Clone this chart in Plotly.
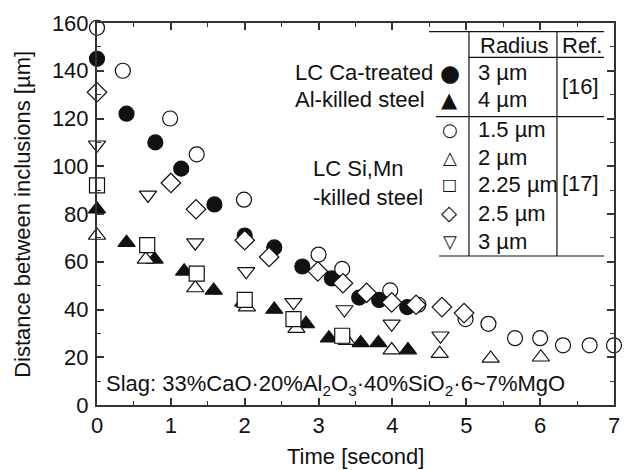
import plotly.graph_objects as go

# ---- data ----
t_ca3 = [0, 0.4, 0.79, 1.14, 1.59, 2.0, 2.4, 2.78, 3.18, 3.55, 3.82, 4.2]
d_ca3 = [145, 122, 110, 99, 84, 71, 66, 58, 53, 45, 44, 41]
t_ca4 = [0, 0.4, 0.78, 1.18, 1.58, 1.98, 2.4, 2.83, 3.14, 3.57, 3.81, 4.21]
d_ca4 = [82, 68, 61, 56, 48, 43, 40, 34, 28, 26, 26, 23]
t_si15 = [0, 0.35, 0.99, 1.35, 1.99, 3.0, 3.32, 3.97, 4.35, 4.99, 5.3, 5.66, 6.0, 6.31, 6.67, 7.0]
d_si15 = [158, 140, 120, 105, 86, 63, 57, 48, 42, 36, 34, 28, 28, 25, 25, 25]
t_si2 = [0, 0.66, 1.33, 2.03, 2.7, 3.38, 3.99, 4.64, 5.33, 6.01]
d_si2 = [71, 61, 49, 41, 32, 27, 23, 21.5, 19.5, 20]
t_si225 = [0, 0.68, 1.35, 2.0, 2.66, 3.32]
d_si225 = [92, 67, 55, 44, 36, 29]
t_si25 = [0, 1.0, 1.34, 2.0, 2.33, 2.99, 3.33, 3.65, 3.99, 4.32, 4.67, 4.97]
d_si25 = [131, 93, 82, 69, 62, 56, 51, 47, 43, 42, 41, 38.5]
t_si3 = [0, 0.69, 1.33, 2.02, 2.66, 3.35, 3.99, 4.65]
d_si3 = [109, 88, 68, 56, 43, 40, 34, 29]

legend_symbols = ["●", "▲", "○", "△", "□", "◇", "▽"]
legend_radius = ["3 µm", "4 µm", "1.5 µm", "2 µm", "2.25 µm", "2.5 µm", "3 µm"]

FONT = "Liberation Sans, Arial, sans-serif"
FS = 22
BLACK = "#111111"

# plot area in pixels (for placing layout decorations)
L, R, T, B = 97, 620, 23, 405
W_, H_ = 628, 470


def px(x):
    return (x - L) / (R - L)


def py(y):
    return (B - y) / (B - T)


def trace(t, d, symbol, filled):
    return go.Scatter(
        x=t, y=d, mode="markers", cliponaxis=False, showlegend=False,
        marker=dict(symbol=symbol, size=15,
                    color=BLACK if filled else "white",
                    line=dict(color=BLACK, width=1.2)))


fig = go.Figure()
fig.add_trace(trace(t_ca3, d_ca3, "circle", True))
fig.add_trace(trace(t_ca4, d_ca4, "triangle-up", True))
fig.add_trace(trace(t_si15, d_si15, "circle", False))
fig.add_trace(trace(t_si2, d_si2, "triangle-up", False))
fig.add_trace(trace(t_si3, d_si3, "triangle-down", False))
fig.add_trace(trace(t_si225, d_si225, "square", False))
fig.add_trace(trace(t_si25, d_si25, "diamond", False))

axis_common = dict(
    showline=True, linecolor="#333333", linewidth=2, mirror="ticks",
    ticks="inside", ticklen=7, tickwidth=1.5, tickcolor="#333333",
    showgrid=False, zeroline=False,
    tickfont=dict(family=FONT, size=FS, color=BLACK),
)

fig.update_xaxes(range=[0, 7], dtick=1, tick0=0,
                 minor=dict(ticks="inside", dtick=0.5, ticklen=4, tickcolor="#333333", tickwidth=1.2),
                 **axis_common)
fig.update_yaxes(range=[0, 160], dtick=20, tick0=0, ticklabelstandoff=2,
                 minor=dict(ticks="inside", dtick=10, ticklen=4, tickcolor="#333333", tickwidth=1.2),
                 **axis_common)

ann = []


def text(x, y, s, xanchor="left", size=FS, angle=0, family=FONT):
    ann.append(dict(x=px(x), y=py(y), xref="paper", yref="paper", text=s,
                    showarrow=False, xanchor=xanchor, yanchor="middle",
                    textangle=angle,
                    font=dict(family=family, size=size, color=BLACK)))


# axis titles
text(358, 456, "Time [second]", "center")
text(21, 214, "Distance between inclusions [µm]", "center", angle=-90)

# group labels
text(295, 73, "LC Ca-treated")
text(295, 100, "Al-killed steel")
text(313, 168, "LC Si,Mn")
text(313, 197, "-killed steel")

# slag composition
text(104, 385, "Slag: 33%CaO·20%Al<sub>2</sub>O<sub>3</sub>·40%SiO<sub>2</sub>·6~7%MgO")

# legend table
text(519, 45, "Radius", "center")
text(588, 45, "Ref.", "center")
row_y = [73, 100, 129, 157, 185, 213, 241]
glyph_size = {"●": 23, "▲": 21, "○": 18, "△": 18, "□": 16, "◇": 21, "▽": 18}
for s, r, y in zip(legend_symbols, legend_radius, row_y):
    text(454, y, s, "center", size=glyph_size[s], family="DejaVu Sans")
    text(480, y, r)
text(586, 86, "[16]", "center")
text(586, 183, "[17]", "center")

shapes = []
for (x0, y0, x1, y1) in [(433, 31.7, 610, 31.7), (473, 57.3, 610, 57.3),
                         (440, 116.7, 610, 116.7), (443, 256, 610, 256),
                         (473.3, 31.7, 473.3, 256), (562.3, 31.7, 562.3, 256)]:
    shapes.append(dict(type="line", xref="paper", yref="paper",
                       x0=px(x0), y0=py(y0), x1=px(x1), y1=py(y1),
                       line=dict(color=BLACK, width=1.2)))

fig.update_layout(
    width=W_, height=H_,
    margin=dict(l=L, r=W_ - R, t=T, b=H_ - B, pad=0),
    paper_bgcolor="white", plot_bgcolor="white",
    annotations=ann, shapes=shapes,
    font=dict(family=FONT, size=FS, color=BLACK),
)

fig.write_html("out.html", config={"displayModeBar": False},
               post_script="document.body.style.margin='0';document.body.style.overflow='hidden';")
